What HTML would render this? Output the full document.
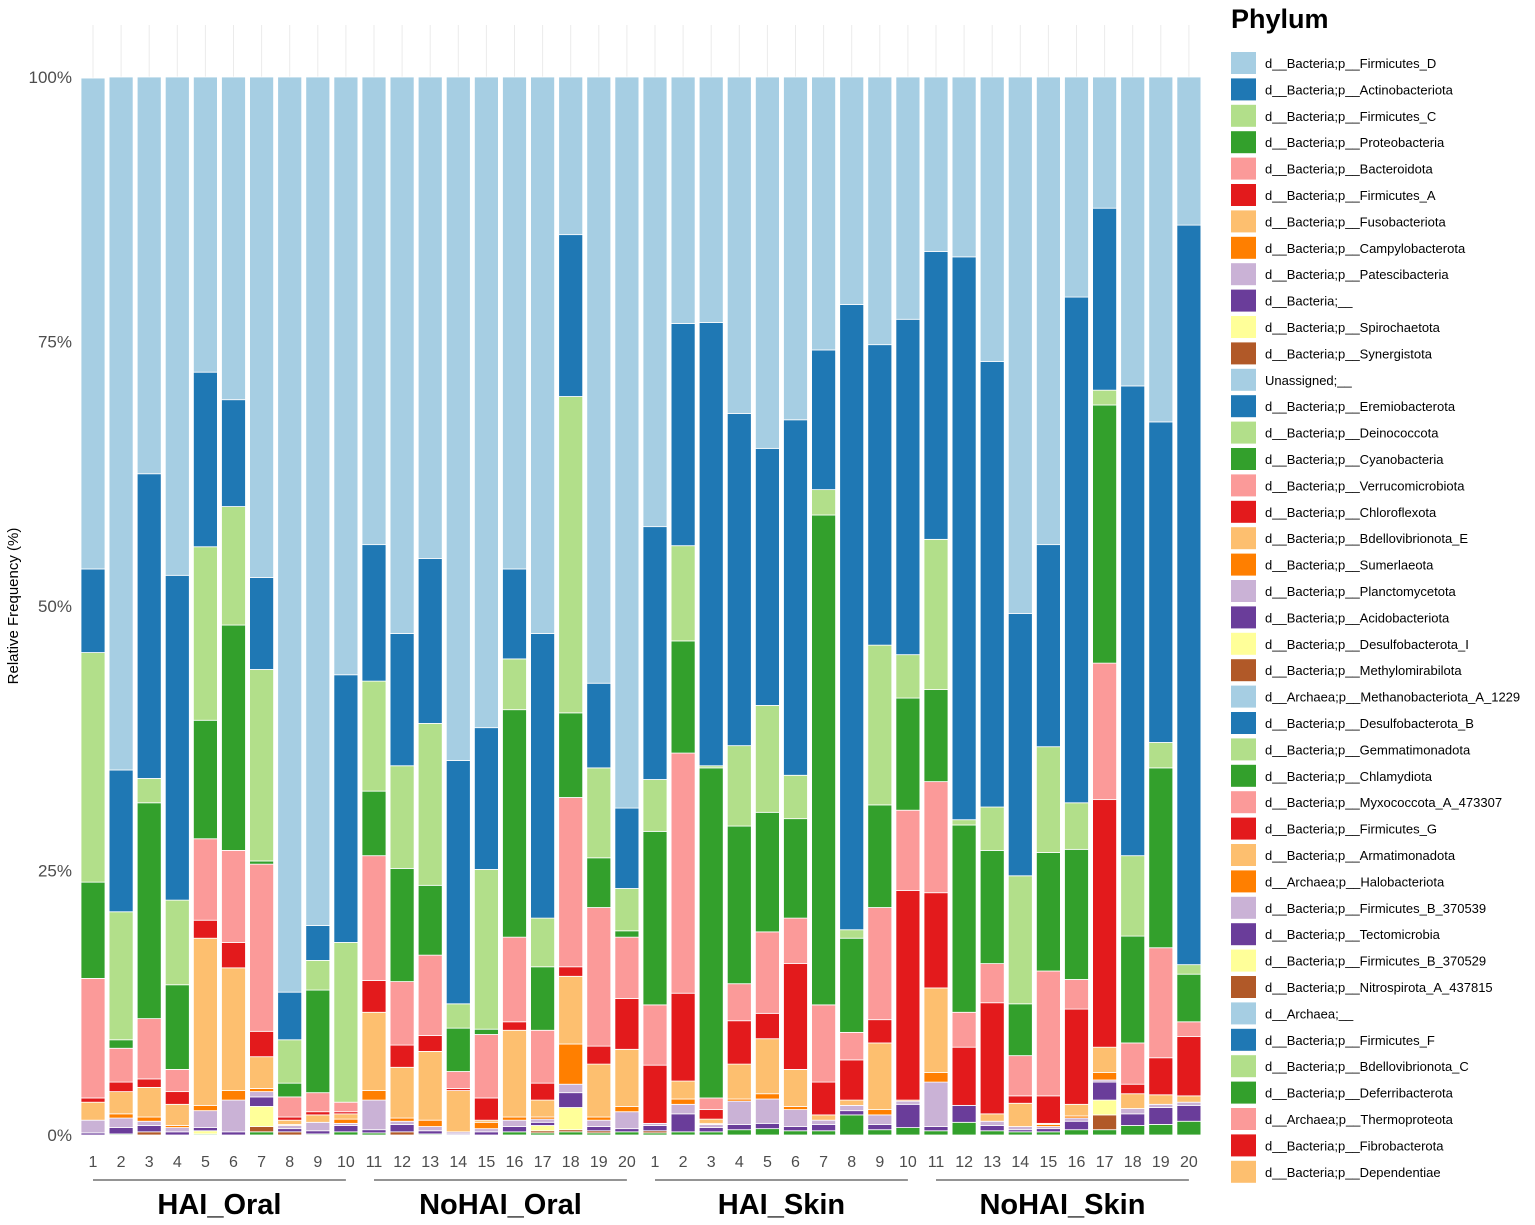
<!DOCTYPE html>
<html><head><meta charset="utf-8">
<style>
body{margin:0;background:#fff;font-family:"Liberation Sans",Arial,sans-serif;}
svg{display:block}
</style></head>
<body>
<svg id="chart" width="1535" height="1225" xmlns="http://www.w3.org/2000/svg"></svg>
<script>
const sampleLabels = [1,2,3,4,5,6,7,8,9,10,11,12,13,14,15,16,17,18,19,20,1,2,3,4,5,6,7,8,9,10,11,12,13,14,15,16,17,18,19,20];
const groupNames = ["HAI_Oral","NoHAI_Oral","HAI_Skin","NoHAI_Skin"];
const yTicks = [0,25,50,75,100];
// series values (%)
const firmicutesD =    [46.4,65.5,37.5,47.1,27.9,30.5,47.3,86.5,80.2,56.5, 44.2,52.6,45.5,64.6,61.5,46.5,52.6,14.9,57.3,69.1, 42.5,23.3,23.2,31.8,35.1,32.4,25.8,21.5,25.3,22.9, 16.5,17.0,26.9,50.7,44.2,20.8,12.4,29.2,32.6,14.0];
const actinobacteriota=[7.9,13.4,28.8,30.7,16.5,10.1,8.7,4.5,3.3,25.3, 12.9,12.5,15.6,23.0,13.4,8.5,26.9,15.3,8.0,7.6, 23.9,21.0,41.9,31.4,24.3,33.6,13.2,59.1,28.4,31.7, 27.2,53.2,42.1,24.8,19.1,47.8,17.2,44.4,30.3,69.9];
const firmicutesC =    [21.7,12.1,2.3,8.0,16.4,11.2,18.1,4.1,2.8,15.1, 10.4,9.7,15.3,2.3,15.1,4.8,4.6,29.9,8.5,4.0, 4.9,9.0,0.2,7.6,10.1,4.1,2.4,0.8,15.1,4.1, 14.2,0.5,4.1,12.1,10.0,4.4,1.4,7.6,2.4,0.9];
const proteobacteria = [9.1,0.8,20.4,8.0,11.2,21.3,0.3,1.3,9.7,0, 6.1,10.7,6.6,4.1,0.5,21.5,6.0,8.0,4.7,0.6, 16.4,10.6,31.2,14.9,11.3,9.4,46.3,8.9,9.7,10.6, 8.7,17.7,10.7,4.9,11.2,12.3,24.4,10.1,17.0,4.5];
const bacteroidota =   [11.3,3.2,5.7,2.1,7.7,8.7,15.8,1.9,1.8,0.9, 11.8,6.0,7.6,1.6,6.0,8.0,5.0,16.0,13.1,5.8, 5.7,22.7,1.1,3.5,7.7,4.3,7.3,2.6,10.6,7.6, 10.5,3.3,3.7,3.8,11.8,2.8,12.9,3.9,10.4,1.4];
const firmicutesA =    [0.4,0.9,0.8,1.2,1.7,2.4,2.4,0.3,0.3,0.2, 3.0,2.1,1.5,0.2,2.1,0.8,1.6,0.9,1.7,4.8, 5.5,8.3,0.9,4.1,2.4,10.0,3.1,3.8,2.2,19.8, 9.0,5.5,10.5,0.7,2.6,9.0,23.4,0.9,3.5,5.6];
const fusobacteriota = [1.7,2.1,2.8,2.0,15.8,11.6,3.0,0.4,0.7,0.5, 7.4,4.8,6.5,3.9,0.2,8.2,1.6,6.4,5.0,5.4, 0,1.7,0.4,3.3,5.2,3.5,0.5,0.5,6.3,0, 8.0,0,0.7,2.2,0.1,1.1,2.4,1.4,0.9,0.6];
const campylobacterota=[0,0.4,0.4,0.2,0.5,0.9,0.3,0.1,0,0.4, 0.9,0.3,0.6,0,0.6,0.3,0.2,3.8,0.3,0.5, 0,0.5,0.1,0.2,0.5,0.3,0,0,0.5,0.1, 0.9,0,0,0,0.2,0.2,0.7,0,0,0];
const patescibacteria =[1.2,0.9,0.4,0.4,1.6,3.0,0.5,0.3,0.8,0.2, 2.8,0.3,0.4,0.2,0.3,0.6,0.3,0.8,0.6,1.6, 0.2,0.9,0.3,2.2,2.3,1.6,0.4,0.5,0.9,0.3, 4.2,0,0.4,0.3,0.2,0.3,0.2,0.5,0.3,0.3];
const bacteriaUnknown =[0.2,0.6,0.6,0.3,0.3,0.3,0.9,0.3,0.3,0.6, 0.3,0.7,0.3,0.1,0.3,0.5,0.3,1.4,0.4,0.3, 0.5,1.7,0.4,0.5,0.5,0.4,0.6,0.4,0.5,2.2, 0.4,1.6,0.5,0.2,0.3,0.8,1.7,1.1,1.6,1.5];
const spirochaetota =  [0,0,0,0,0.3,0,1.9,0,0,0, 0,0,0,0,0,0,0.5,2.1,0,0, 0,0,0,0,0,0,0,0,0,0, 0,0,0,0,0,0,1.4,0,0,0];
const synergistota =   [0,0,0.3,0,0,0,0.5,0.3,0,0, 0,0.3,0,0,0,0,0.2,0.2,0.2,0, 0.2,0,0,0,0,0,0,0,0,0, 0,0,0,0,0,0,1.4,0,0,0];
const minorOther =     [0,0.1,0,0,0.1,0,0.3,0,0.1,0.3, 0.2,0,0.1,0,0,0.3,0.2,0.3,0.2,0.3, 0.2,0.3,0.3,0.5,0.6,0.4,0.4,1.9,0.5,0.7, 0.4,1.2,0.4,0.3,0.3,0.5,0.5,0.9,1.0,1.3];
const legendLabels = ["d__Bacteria;p__Firmicutes_D","d__Bacteria;p__Actinobacteriota","d__Bacteria;p__Firmicutes_C","d__Bacteria;p__Proteobacteria","d__Bacteria;p__Bacteroidota","d__Bacteria;p__Firmicutes_A","d__Bacteria;p__Fusobacteriota","d__Bacteria;p__Campylobacterota","d__Bacteria;p__Patescibacteria","d__Bacteria;__","d__Bacteria;p__Spirochaetota","d__Bacteria;p__Synergistota","Unassigned;__","d__Bacteria;p__Eremiobacterota","d__Bacteria;p__Deinococcota","d__Bacteria;p__Cyanobacteria","d__Bacteria;p__Verrucomicrobiota","d__Bacteria;p__Chloroflexota","d__Bacteria;p__Bdellovibrionota_E","d__Bacteria;p__Sumerlaeota","d__Bacteria;p__Planctomycetota","d__Bacteria;p__Acidobacteriota","d__Bacteria;p__Desulfobacterota_I","d__Bacteria;p__Methylomirabilota","d__Archaea;p__Methanobacteriota_A_1229","d__Bacteria;p__Desulfobacterota_B","d__Bacteria;p__Gemmatimonadota","d__Bacteria;p__Chlamydiota","d__Bacteria;p__Myxococcota_A_473307","d__Bacteria;p__Firmicutes_G","d__Bacteria;p__Armatimonadota","d__Archaea;p__Halobacteriota","d__Bacteria;p__Firmicutes_B_370539","d__Bacteria;p__Tectomicrobia","d__Bacteria;p__Firmicutes_B_370529","d__Bacteria;p__Nitrospirota_A_437815","d__Archaea;__","d__Bacteria;p__Firmicutes_F","d__Bacteria;p__Bdellovibrionota_C","d__Bacteria;p__Deferribacterota","d__Archaea;p__Thermoproteota","d__Bacteria;p__Fibrobacterota","d__Bacteria;p__Dependentiae"];

const palette = ["#a6cee3","#1f78b4","#b2df8a","#33a02c","#fb9a99","#e31a1c","#fdbf6f","#ff7f00","#cab2d6","#6a3d9a","#ffff99","#b15928"];
const series = [firmicutesD,actinobacteriota,firmicutesC,proteobacteria,bacteroidota,firmicutesA,fusobacteriota,campylobacterota,patescibacteria,bacteriaUnknown,spirochaetota,synergistota,minorOther];
const seriesNames = ["firmicutes-d","actinobacteriota","firmicutes-c","proteobacteria","bacteroidota","firmicutes-a","fusobacteriota","campylobacterota","patescibacteria","bacteria-unassigned","spirochaetota","synergistota","minor-other"];
const seriesColors = palette.concat(["#33a02c"]);

const svg = document.getElementById('chart');
const NS = "http://www.w3.org/2000/svg";
function mk(tag, attrs, parent){const e=document.createElementNS(NS,tag);for(const k in attrs)e.setAttribute(k,attrs[k]);(parent||svg).appendChild(e);return e;}
const y0=1135, y100=77, plotTop=25;
function yScale(v){return y0-(v/100)*(y0-y100);}
function xScale(i){return 93+i*28.1;}
const barW=24;

for(let i=0;i<sampleLabels.length;i++){
  const g=mk('line',{x1:xScale(i),x2:xScale(i),y1:plotTop,y2:y0,stroke:'#ebebeb','stroke-width':1});
  
  
}
for(let i=0;i<sampleLabels.length;i++){
  let cum=0;
  for(let s=series.length-1;s>=0;s--){
    const v=series[s][i]; if(!v) continue;
    const top=yScale(cum+v), bot=yScale(cum);
    const r=mk('rect',{x:xScale(i)-barW/2,y:top,width:barW,height:Math.max(0,bot-top),fill:seriesColors[s],stroke:'#fff','stroke-width':0.8});
    
    
    cum+=v;
  }
}
for(const t of yTicks){
  const tx=mk('text',{x:72,y:yScale(t)+6,'text-anchor':'end','font-size':17,fill:'#4d4d4d'});
  tx.textContent=t+'%';
  
  
}
const yt=mk('text',{x:0,y:0,transform:'translate(18,606) rotate(-90)','text-anchor':'middle','font-size':15,fill:'#000'});
yt.textContent='Relative Frequency (%)';


for(let i=0;i<sampleLabels.length;i++){
  const tx=mk('text',{x:xScale(i),y:1167,'text-anchor':'middle','font-size':16,fill:'#4d4d4d'});
  tx.textContent=sampleLabels[i];
  
  
}
for(let g=0;g<groupNames.length;g++){
  const a=xScale(g*10), b=xScale(g*10+9);
  const ln=mk('line',{x1:a,x2:b,y1:1180,y2:1180,stroke:'#555','stroke-width':1.2});
  
  
  const tx=mk('text',{x:(a+b)/2,y:1214,'text-anchor':'middle','font-size':29,'font-weight':'bold',fill:'#000'});
  tx.textContent=groupNames[g];
  
  
}
const lt=mk('text',{x:1231,y:28,'font-size':27,'font-weight':'bold',fill:'#000'});
lt.textContent='Phylum';


for(let i=0;i<legendLabels.length;i++){
  const cy=63+i*26.4;
  const sw=mk('rect',{x:1231,y:cy-11,width:25,height:22,fill:palette[i%12]});
  
  
  const tx=mk('text',{x:1265,y:cy+5,'font-size':13,fill:'#000'});
  tx.textContent=legendLabels[i];
  
  
}
</script>
</body></html>
